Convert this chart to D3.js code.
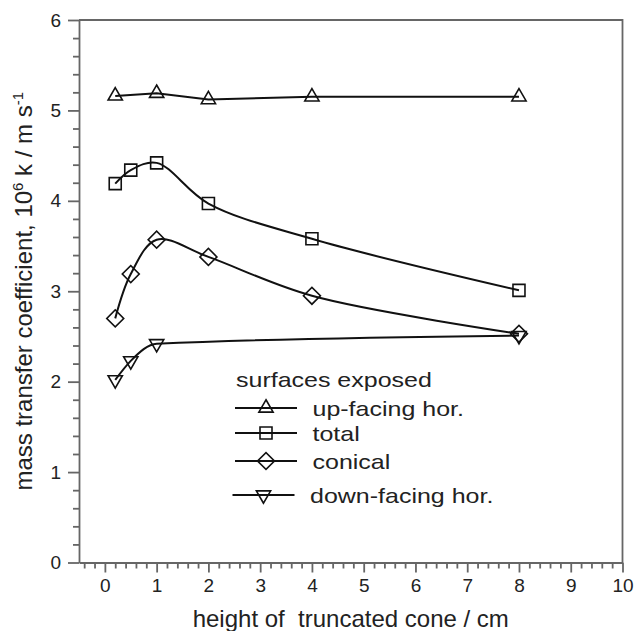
<!DOCTYPE html>
<html lang="en">
<head>
<meta charset="UTF-8">
<title>mass transfer coefficient vs height of truncated cone</title>
<style>
  body { margin: 0; background: #fff; }
  svg { display: block; font-family: "Liberation Sans", Arial, sans-serif; }
  .axis path, .axis line { stroke: #666; stroke-width: 1.8px; }
  .axis text { font-size: 19px; fill: #222; }
  .series path.line { fill: none; stroke: #111; stroke-width: 2px; }
  .mark { fill: none; stroke: #111; stroke-width: 1.6px; }
  .legend text { font-size: 21px; fill: #222; }
  .title { font-size: 24px; fill: #222; }
</style>
</head>
<body>
<svg width="637" height="631"></svg>
<script src="https://d3js.org/d3.v7.min.js"></script>
<script>
// data
const seriesNames = ["up-facing hor.", "total", "conical", "down-facing hor."];
const upX = [0.2, 1, 2, 4, 8];
const upY = [5.16, 5.19, 5.12, 5.15, 5.15];
const totalX = [0.2, 0.5, 1, 2, 4, 8];
const totalY = [4.19, 4.34, 4.42, 3.97, 3.58, 3.01];
const conicalX = [0.2, 0.5, 1, 2, 4, 8];
const conicalY = [2.70, 3.19, 3.57, 3.38, 2.95, 2.53];
const downX = [0.2, 0.5, 1, 8];
const downY = [2.02, 2.23, 2.42, 2.51];
const xTicks = [0, 1, 2, 3, 4, 5, 6, 7, 8, 9, 10];
const yTicks = [0, 1, 2, 3, 4, 5, 6];

const svg = d3.select("svg");
const margin = { top: 20, right: 14.5, bottom: 68.5, left: 79 };
const W = +svg.attr("width"), H = +svg.attr("height");

const x = d3.scaleLinear().domain([-0.5, 10]).range([margin.left, W - margin.right]);
const y = d3.scaleLinear().domain([0, 6]).range([H - margin.bottom, margin.top]);

// frame (top + right)
svg.append("path")
    .attr("d", `M${x(-0.5)},${y(6)}H${x(10)}V${y(0)}`)
    .attr("fill", "none").attr("stroke", "#666").attr("stroke-width", 1.8);

// minor ticks every 0.2
const xMinor = d3.range(-2, 51).map(i => i / 5).filter(v => !Number.isInteger(v));
const yMinor = d3.range(0, 31).map(i => i / 5).filter(v => !Number.isInteger(v));

svg.append("g").attr("class", "axis")
    .attr("transform", `translate(0,${y(0)})`)
    .call(d3.axisBottom(x).tickValues(xMinor).tickSize(6).tickFormat(""))
    .call(g => g.select(".domain").remove());
svg.append("g").attr("class", "axis")
    .attr("transform", `translate(${x(-0.5)},0)`)
    .call(d3.axisLeft(y).tickValues(yMinor).tickSize(6).tickFormat(""))
    .call(g => g.select(".domain").remove());

svg.append("g").attr("class", "axis")
    .attr("transform", `translate(0,${y(0)})`)
    .call(d3.axisBottom(x).tickValues(xTicks).tickFormat(d3.format("d"))
        .tickSize(10).tickSizeOuter(0).tickPadding(6));
svg.append("g").attr("class", "axis")
    .attr("transform", `translate(${x(-0.5)},0)`)
    .call(d3.axisLeft(y).tickValues(yTicks).tickFormat(d3.format("d"))
        .tickSize(11).tickSizeOuter(0).tickPadding(7));

// axis titles
svg.append("text").attr("class", "title")
    .attr("x", (x(-0.5) + x(10)) / 2).attr("y", 627)
    .attr("text-anchor", "middle")
    .attr("xml:space", "preserve")
    .text("height of  truncated cone / cm");

const yt = svg.append("text").attr("class", "title")
    .attr("transform", `translate(32,${(y(0) + y(6)) / 2}) rotate(-90)`)
    .attr("text-anchor", "middle");
yt.append("tspan").text("mass transfer coefficient, 10");
yt.append("tspan").attr("dy", -9).attr("font-size", 15).text("6");
yt.append("tspan").attr("dy", 9).text(" k / m s");
yt.append("tspan").attr("dy", -9).attr("font-size", 15).text("-1");

// marker shapes
const tri = d3.symbol().type(d3.symbolTriangle).size(88);
const sq = d3.symbol().type(d3.symbolSquare).size(144);
function drawMark(g, kind, px, py) {
    if (kind === 0) g.append("path").attr("class", "mark").attr("d", tri()).attr("transform", `translate(${px},${py})`);
    if (kind === 1) g.append("path").attr("class", "mark").attr("d", sq()).attr("transform", `translate(${px},${py})`);
    if (kind === 2) g.append("path").attr("class", "mark").attr("d", sq()).attr("transform", `translate(${px},${py}) rotate(45)`);
    if (kind === 3) g.append("path").attr("class", "mark").attr("d", tri()).attr("transform", `translate(${px},${py}) rotate(180)`);
}

const series = [
    { xs: upX, ys: upY, curve: d3.curveLinear },
    { xs: totalX, ys: totalY, curve: d3.curveCatmullRom.alpha(0.5) },
    { xs: conicalX, ys: conicalY, curve: d3.curveCatmullRom.alpha(0.5) },
    { xs: downX, ys: downY, curve: d3.curveMonotoneX }
];

series.forEach((s, i) => {
    const pts = s.xs.map((v, j) => [v, s.ys[j]]);
    const line = d3.line().x(d => x(d[0])).y(d => y(d[1])).curve(s.curve);
    const g = svg.append("g").attr("class", "series");
    g.append("path").attr("class", "line").attr("d", line(pts));
    pts.forEach(p => drawMark(g, i, x(p[0]), y(p[1])));
});

// legend (text is drawn a bit wide, like the original)
const lg = svg.append("g").attr("class", "legend");
lg.append("text").attr("transform", "translate(236,387) scale(1.19,1)").text("surfaces exposed");
const rowY = [408, 433, 461, 495];
const rowX = [235, 235, 235, 232.5];
seriesNames.forEach((name, i) => {
    const g = lg.append("g").attr("class", "series");
    g.append("path").attr("class", "line").attr("d", `M${rowX[i]},${rowY[i]}h62`);
    drawMark(g, i, rowX[i] + 31, rowY[i]);
    g.append("text")
        .attr("transform", `translate(${rowX[i] + 77.5},${rowY[i] + 7.5}) scale(1.19,1)`)
        .text(name);
});
</script>
</body>
</html>
